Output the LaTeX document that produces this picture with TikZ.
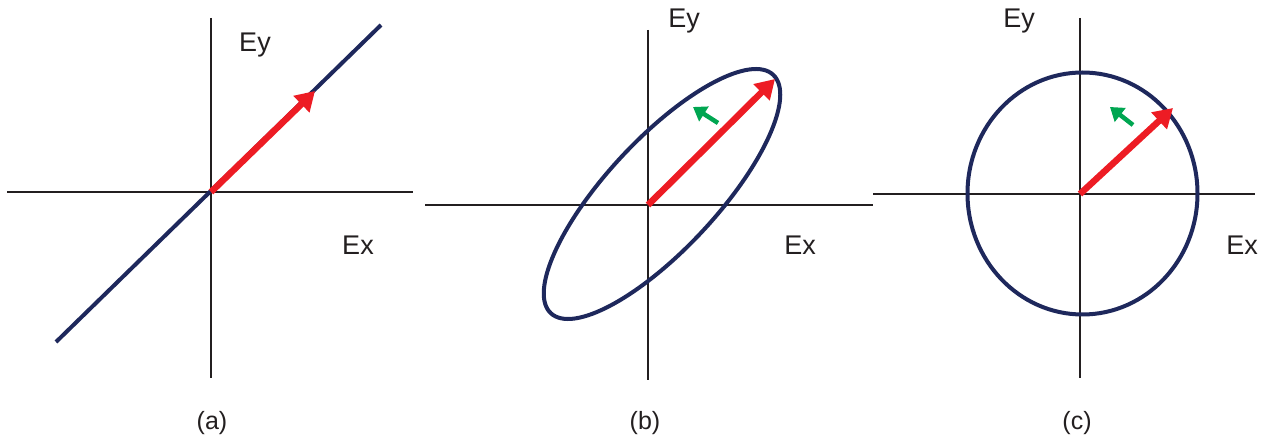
\documentclass[tikz,border=0pt]{standalone}
\usepackage{fontspec}
\setmainfont{Liberation Sans}
\usetikzlibrary{arrows.meta}
\definecolor{navy}{RGB}{30,40,92}
\definecolor{fieldred}{RGB}{237,28,36}
\definecolor{spingreen}{RGB}{0,166,81}
\definecolor{axgray}{RGB}{35,31,32}

\begin{document}
\begin{tikzpicture}[
  x=1pt, y=-1pt,
  axline/.style={draw=axgray, line width=1.7pt},
  trace/.style={draw=navy, line width=4pt},
  field/.style={draw=fieldred, line width=6.5pt,
                -{Triangle[length=19pt,width=22pt]}, fieldred},
  spin/.style={draw=spingreen, line width=4.5pt,
               -{Triangle[length=13pt,width=17pt]}, spingreen},
  lab/.style={font=\fontsize{27}{30}\selectfont, text=axgray, inner sep=0pt},
  sublab/.style={font=\fontsize{25}{30}\selectfont, text=axgray, inner sep=0pt}
]
\useasboundingbox (0,0) rectangle (1270,443);

% ----- panel (a): linear -----
\coordinate (oa) at (211,192);
\draw[axline] (211,18) -- (211,378);
\draw[axline] (7,192) -- (413,192);
\coordinate (la) at (56,342);
\coordinate (ua) at (381,25);
\draw[trace] (la) -- (ua);
\coordinate (ta) at (315,91);
\draw[field] (oa) -- (ta);
\node[lab] (eya) at (255,45) {Ey};
\node[lab] (exa) at (358,245) {Ex};
\node[sublab] (capa) at (212,423) {(a)};

% ----- panel (b): elliptical -----
\coordinate (ob) at (648,205);
\draw[axline] (648,30) -- (648,380);
\draw[axline] (425,205) -- (873,205);
\coordinate (cb) at (662,194);
\draw[trace] (cb) ellipse [x radius=163, y radius=55, rotate=47];
\coordinate (tb) at (775,79);
\draw[field] (ob) -- (tb);
\coordinate (gb0) at (718,123);
\coordinate (gb1) at (693,107);
\draw[spin] (gb0) -- (gb1);
\node[lab] (eyb) at (684,21) {Ey};
\node[lab] (exb) at (800,245) {Ex};
\node[sublab] (capb) at (645,423) {(b)};

% ----- panel (c): circular -----
\coordinate (oc) at (1080,194);
\draw[axline] (1080,18) -- (1080,378);
\draw[axline] (873,194) -- (1255,194);
\coordinate (cc) at (1082.5,193.5);
\draw[trace] (cc) ellipse [x radius=115, y radius=121];
\coordinate (tc) at (1173,108);
\draw[field] (oc) -- (tc);
\coordinate (gc0) at (1133,125);
\coordinate (gc1) at (1110,107);
\draw[spin] (gc0) -- (gc1);
\node[lab] (eyc) at (1019,21) {Ey};
\node[lab] (exc) at (1242,245) {Ex};
\node[sublab] (capc) at (1077,423) {(c)};

\end{tikzpicture}
\end{document}
